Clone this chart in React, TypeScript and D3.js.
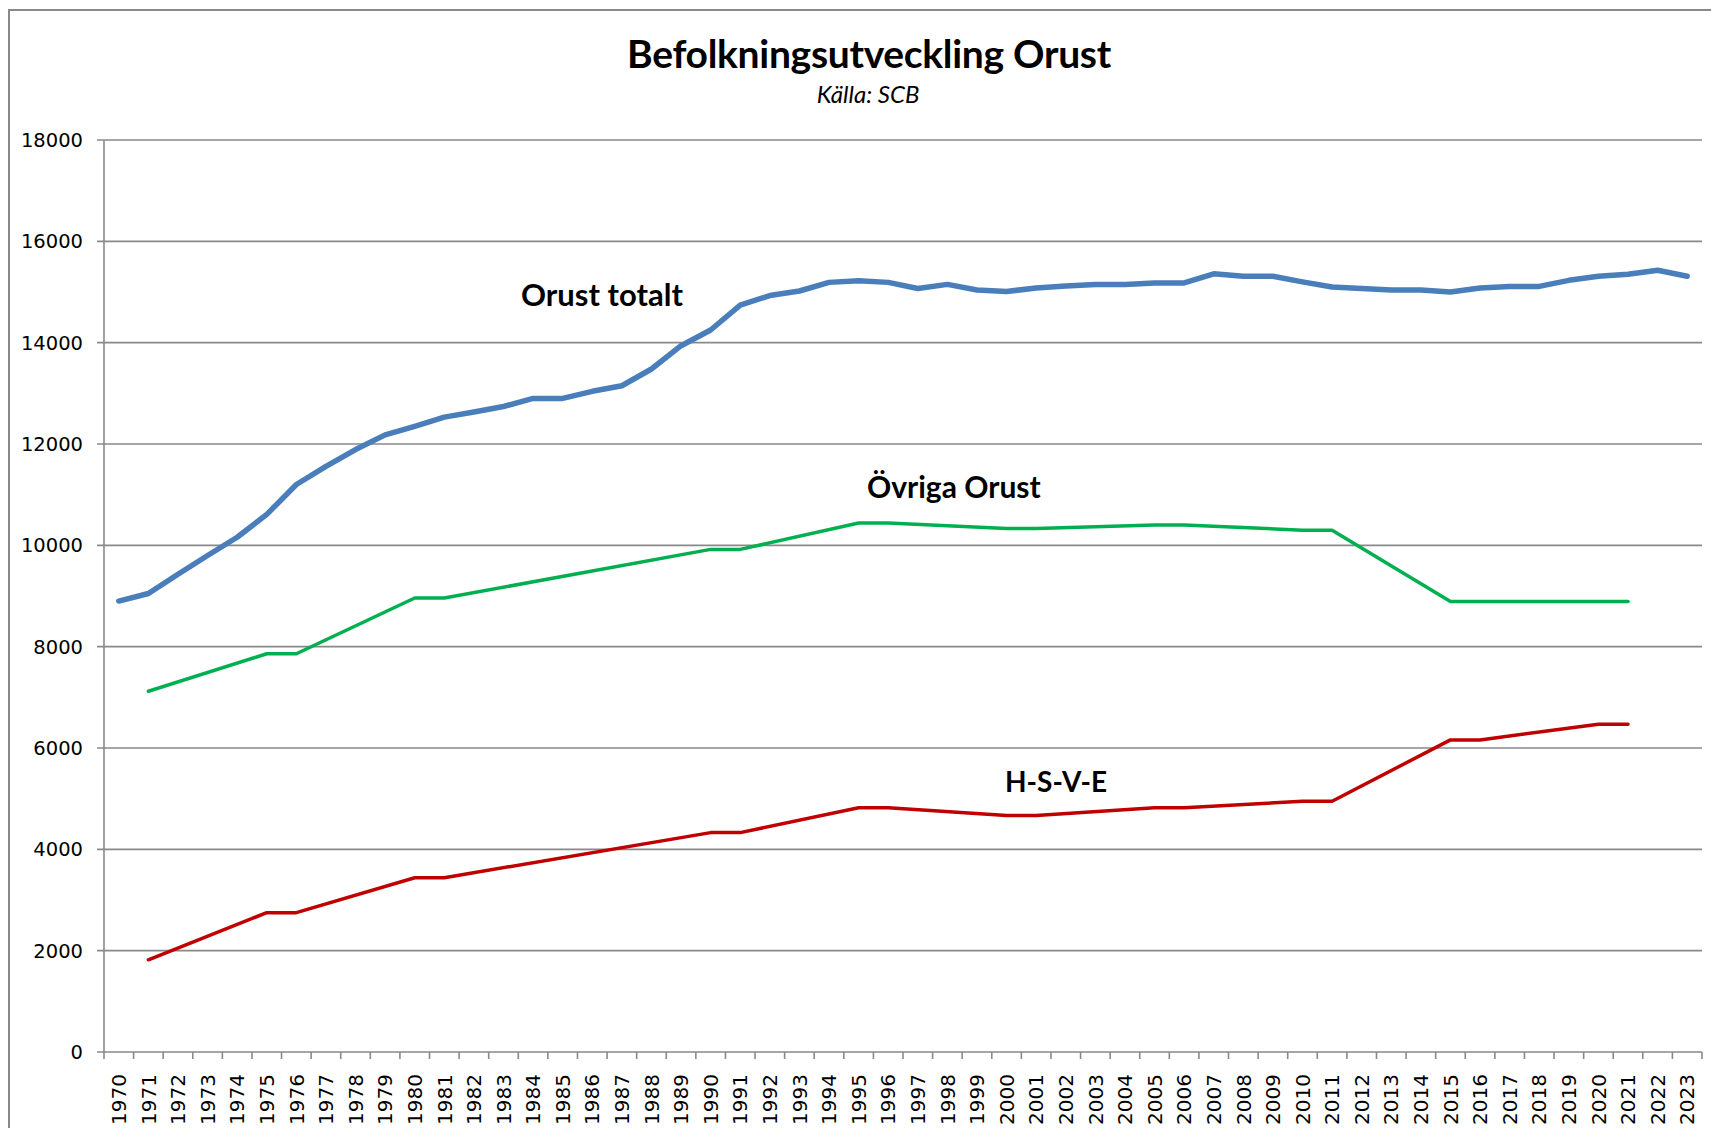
import React from 'react';
import * as d3 from 'd3';

// Befolkningsutveckling Orust, källa SCB
const years = [
  1970, 1971, 1972, 1973, 1974, 1975, 1976, 1977, 1978, 1979,
  1980, 1981, 1982, 1983, 1984, 1985, 1986, 1987, 1988, 1989,
  1990, 1991, 1992, 1993, 1994, 1995, 1996, 1997, 1998, 1999,
  2000, 2001, 2002, 2003, 2004, 2005, 2006, 2007, 2008, 2009,
  2010, 2011, 2012, 2013, 2014, 2015, 2016, 2017, 2018, 2019,
  2020, 2021, 2022, 2023,
];

const orustTotalt = [
  8900, 9050, 9430, 9800, 10160, 10610, 11200, 11560, 11890, 12180,
  12350, 12530, 12630, 12740, 12900, 12900, 13040, 13150, 13480, 13940,
  14250, 14740, 14930, 15020, 15190, 15220, 15190, 15070, 15150, 15040,
  15010, 15080, 15120, 15150, 15150, 15180, 15180, 15360, 15310, 15310,
  15200, 15100, 15070, 15040, 15040, 15000, 15080, 15110, 15110, 15230,
  15310, 15350, 15430, 15310,
];

// delserierna finns bara för vissa år
const ovrigaYears = [1971, 1975, 1976, 1980, 1981, 1990, 1991, 1995, 1996, 2000, 2001, 2005, 2006, 2010, 2011, 2015, 2016, 2020, 2021];
const ovrigaValues = [7120, 7860, 7860, 8960, 8960, 9920, 9920, 10440, 10440, 10330, 10330, 10400, 10400, 10300, 10300, 8890, 8890, 8890, 8890];

const hsveYears = [1971, 1975, 1976, 1980, 1981, 1990, 1991, 1995, 1996, 2000, 2001, 2005, 2006, 2010, 2011, 2015, 2016, 2020, 2021];
const hsveValues = [1820, 2750, 2750, 3440, 3440, 4330, 4330, 4820, 4820, 4670, 4670, 4820, 4820, 4950, 4950, 6160, 6160, 6470, 6470];

const yTicks = [0, 2000, 4000, 6000, 8000, 10000, 12000, 14000, 16000, 18000];

const W = 1711;
const H = 1128;
const plot = { left: 104, right: 1702, top: 140, bottom: 1052 };
const gridColor = '#898989';
const labelFont = 'Lato, "Open Sans", sans-serif';
const tickFont = '"DejaVu Sans", Verdana, sans-serif';

export default function App() {
  const x = d3.scaleBand<number>().domain(years).range([plot.left, plot.right]).padding(0);
  const y = d3.scaleLinear().domain([0, 18000]).range([plot.bottom, plot.top]);
  const cx = (yr: number) => (x(yr) as number) + x.bandwidth() / 2;

  const line = d3
    .line<[number, number]>()
    .x((d) => cx(d[0]))
    .y((d) => y(d[1]));

  const totaltPts = years.map((yr, i) => [yr, orustTotalt[i]] as [number, number]);
  const ovrigaPts = ovrigaYears.map((yr, i) => [yr, ovrigaValues[i]] as [number, number]);
  const hsvePts = hsveYears.map((yr, i) => [yr, hsveValues[i]] as [number, number]);

  const xTickPos = years.map((yr) => x(yr) as number).concat([plot.right]);

  return (
    <svg
      width={W}
      height={H}
      style={{ position: 'fixed', left: 0, top: 0, background: '#fff' }}
    >
      <rect x={0} y={0} width={W} height={H} fill="#fff" />
      {/* ram runt diagrammet */}
      <path d={`M9,${H + 5}V10H${W + 5}`} fill="none" stroke={gridColor} strokeWidth={2} />

      <text x={869} y={68} textAnchor="middle" fontFamily={labelFont} fontWeight={700} fontSize={39} letterSpacing={-0.3} fill="#000">
        Befolkningsutveckling Orust
      </text>
      <text x={868} y={103} textAnchor="middle" fontFamily={labelFont} fontStyle="italic" fontSize={24} fill="#000">
        Källa: SCB
      </text>

      {/* stödlinjer och y-axel */}
      {yTicks.map((t) => (
        <g key={t}>
          <line x1={plot.left - 7} x2={plot.right} y1={y(t)} y2={y(t)} stroke={gridColor} strokeWidth={1.6} />
          <text
            x={83}
            y={y(t)}
            dy="0.36em"
            textAnchor="end"
            fontFamily={tickFont}
            fontSize={19.5}
            fill="#000"
          >
            {t}
          </text>
        </g>
      ))}
      <line x1={plot.left} x2={plot.left} y1={plot.top} y2={plot.bottom} stroke={gridColor} strokeWidth={1.6} />

      {/* x-axel */}
      {xTickPos.map((p, i) => (
        <line key={i} x1={p} x2={p} y1={plot.bottom} y2={plot.bottom + 7} stroke={gridColor} strokeWidth={1.6} />
      ))}
      {years.map((yr) => (
        <text
          key={yr}
          transform={`translate(${cx(yr)},${plot.bottom + 22}) rotate(-90)`}
          dy="0.36em"
          textAnchor="end"
          fontFamily={tickFont}
          fontSize={20}
          fill="#000"
        >
          {yr}
        </text>
      ))}

      {/* serier */}
      <path d={line(totaltPts) ?? ''} fill="none" stroke="#4A7EBB" strokeWidth={5.5} strokeLinejoin="round" strokeLinecap="round" />
      <path d={line(ovrigaPts) ?? ''} fill="none" stroke="#00B050" strokeWidth={3.5} strokeLinejoin="round" strokeLinecap="round" />
      <path d={line(hsvePts) ?? ''} fill="none" stroke="#C00000" strokeWidth={3.5} strokeLinejoin="round" strokeLinecap="round" />

      <text x={521} y={306} fontFamily={labelFont} fontWeight={700} fontSize={31} fill="#000">
        Orust totalt
      </text>
      <text x={867} y={498} fontFamily={labelFont} fontWeight={700} fontSize={30} fill="#000">
        Övriga Orust
      </text>
      <text x={1005} y={792} fontFamily={labelFont} fontWeight={700} fontSize={28} fill="#000">
        H-S-V-E
      </text>
    </svg>
  );
}
